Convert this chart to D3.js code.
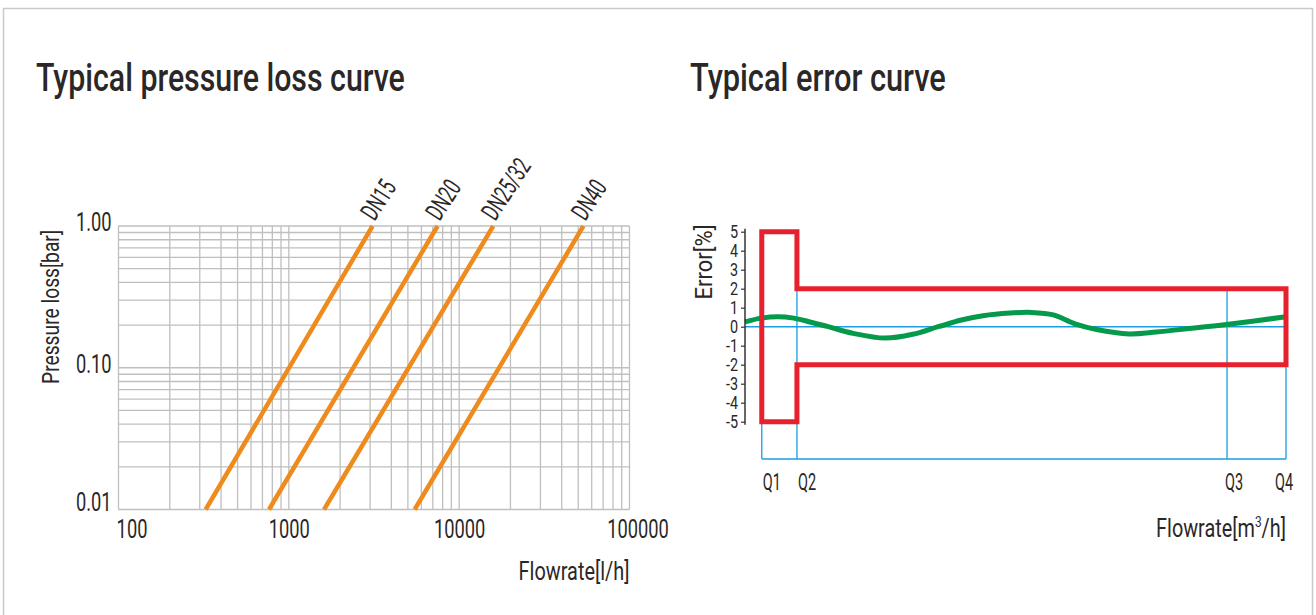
<!DOCTYPE html>
<html><head><meta charset="utf-8">
<script src="https://cdn.jsdelivr.net/npm/d3@7"></script>
<style>
html,body{margin:0;padding:0;background:#fff;}
text{font-family:Roboto,"Liberation Sans Narrow","DejaVu Sans Condensed",sans-serif;fill:#2b2727;}
</style></head><body>
<svg id="c" width="1316" height="615"></svg>
<script>
// ---------- DATA ----------
// Left chart: pressure loss curves (log-log straight lines)
const sizes = ["DN15", "DN20", "DN25/32", "DN40"];
const flowAtLowP = [325, 765, 1610, 5480];     // l/h at 0.01 bar
const flowAtHighP = [3100, 7470, 15850, 53600]; // l/h at 1.00 bar
const lowP = 0.01, highP = 1.0;
const pressureTicks = [1, 0.1, 0.01];
const pressureTickLabels = ["1.00", "0.10", "0.01"];
const flowTicks = [100, 1000, 10000, 100000];
const flowTickLabels = ["100", "1000", "10000", "100000"];

// Right chart: error curve
const errorTicks = [5, 4, 3, 2, 1, 0, -1, -2, -3, -4, -5];
const qNames = ["Q1", "Q2", "Q3", "Q4"];
const qFlow = [3.1, 9.6, 89.1, 100];            // relative flow position
const mpeLowZone = 5;                            // % between Q1 and Q2
const mpeHighZone = 2;                           // % between Q2 and Q4
const errFlow = [0, 3, 6, 9, 12, 15.4, 20, 25.9, 31, 35.7, 40, 44, 49, 53, 57, 61, 65, 71, 76, 82, 89, 100];
const errValue = [0.25, 0.45, 0.52, 0.45, 0.25, 0, -0.35, -0.6, -0.4, 0, 0.35, 0.58, 0.72, 0.75, 0.62, 0.15, -0.15, -0.38, -0.28, -0.1, 0.12, 0.52];

// ---------- HELPERS ----------
const svg = d3.select("#c");
function squeeze(sel, f) {
  sel.each(function () {
    const L = this.getComputedTextLength();
    d3.select(this).attr("textLength", L * f).attr("lengthAdjust", "spacingAndGlyphs");
  });
}
// horizontally condensed label via transform (keeps bbox honest)
function label(parent, o) {
  const t = parent.append("text").attr("font-size", o.size)
    .attr("text-anchor", o.anchor || "start");
  if (o.weight) t.attr("font-weight", o.weight);
  if (o.build) o.build(t); else t.text(o.text);
  const L = t.node().getComputedTextLength();
  const sx = o.width ? o.width / L : (o.factor || 1);
  t.attr("transform", `translate(${o.x},${o.y})` + (o.rotate ? ` rotate(${o.rotate})` : "") + ` scale(${sx},1)`);
  return t;
}

// outer frame
svg.append("rect").attr("x", 3.5).attr("y", 8.5).attr("width", 1309).attr("height", 640)
  .attr("fill", "none").attr("stroke", "#c9c9c9").attr("stroke-width", 1.5);

// titles
label(svg, { text: "Typical pressure loss curve", x: 36, y: 91, size: 39, weight: 500, width: 369 });
label(svg, { text: "Typical error curve", x: 690, y: 91, size: 39, weight: 500, width: 256 });

// ---------- LEFT CHART ----------
const x = d3.scaleLog().domain([100, 100000]).range([118.5, 629.5]);
const y = d3.scaleLog().domain([0.01, 1]).range([509.5, 226]);
const L = svg.append("g");

// grid
const xGrid = [], yGrid = [];
for (let d = 100; d < 100000; d *= 10) for (let m = 1; m < 10; m++) xGrid.push(d * m);
xGrid.push(100000);
for (let d = 0.01; d < 0.99; d *= 10) for (let m = 1; m < 10; m++) yGrid.push(+(d * m).toPrecision(3));
yGrid.push(1);
L.append("g").selectAll("line").data(xGrid).join("line")
  .attr("x1", d => x(d)).attr("x2", d => x(d)).attr("y1", y(1)).attr("y2", y(0.01))
  .attr("stroke", "#bfbfbf").attr("stroke-width", 1.3);
L.append("g").selectAll("line").data(yGrid).join("line")
  .attr("y1", d => y(d)).attr("y2", d => y(d)).attr("x1", x(100)).attr("x2", x(100000))
  .attr("stroke", "#bfbfbf").attr("stroke-width", 1.3);

// curves
const lines = sizes.map((s, i) => ({ name: s, p: [[flowAtLowP[i], lowP], [flowAtHighP[i], highP]] }));
L.append("g").selectAll("path").data(lines).join("path")
  .attr("d", d => d3.line().x(p => x(p[0])).y(p => y(p[1]))(d.p))
  .attr("fill", "none").attr("stroke", "#ef8a1d").attr("stroke-width", 4.5);
const dnG = L.append("g");
lines.forEach(d => label(dnG, { text: d.name, x: x(d.p[1][0]) + 2, y: y(highP) - 4, size: 26, rotate: -57, factor: 0.64 }));

// axes labels
const yAx = L.append("g").attr("transform", `translate(${x(100)},0)`)
  .call(d3.axisLeft(y).tickValues(pressureTicks).tickFormat((d, i) => pressureTickLabels[i]).tickSize(0).tickPadding(7));
yAx.select(".domain").remove();
yAx.selectAll("text").attr("font-size", 25).attr("font-family", null).attr("fill", "#2b2727")
  .attr("dy", (d, i) => i === 2 ? "0.05em" : "0.18em").call(squeeze, 0.73);

const xAx = L.append("g").attr("transform", `translate(0,${y(0.01)})`)
  .call(d3.axisBottom(x).tickValues(flowTicks).tickFormat((d, i) => flowTickLabels[i]).tickSize(0));
xAx.select(".domain").remove();
xAx.selectAll("text").attr("font-size", 25).attr("font-family", null).attr("fill", "#2b2727")
  .attr("y", 28).attr("dy", 0)
  .attr("dx", (d, i) => i === 0 ? 13 : (i === 3 ? 8 : 0)).call(squeeze, 0.73);

label(L, { text: "Flowrate[l/h]", x: 629.5, y: 580, size: 25, anchor: "end", width: 111 });
label(L, { text: "Pressure loss[bar]", x: 59, y: 307, size: 24, anchor: "middle", rotate: -90, width: 154 });

// ---------- RIGHT CHART ----------
const ex = d3.scaleLinear().domain([0, 100]).range([745, 1286]);
const ey = d3.scaleLinear().domain([-5, 5]).range([421.7, 231.7]);
const R = svg.append("g");
const blue = "#1b9ce3";

// blue reference lines
R.append("line").attr("x1", ex(0)).attr("x2", ex(100)).attr("y1", ey(0)).attr("y2", ey(0))
  .attr("stroke", blue).attr("stroke-width", 1.5);
const baseY = 459;
R.append("line").attr("x1", ex(qFlow[0])).attr("x2", ex(qFlow[3])).attr("y1", baseY).attr("y2", baseY)
  .attr("stroke", blue).attr("stroke-width", 1.5);
R.append("g").selectAll("line").data(qFlow).join("line")
  .attr("x1", d => ex(d)).attr("x2", d => ex(d)).attr("y1", ey(mpeHighZone)).attr("y2", baseY)
  .attr("stroke", blue).attr("stroke-width", 1.3);

// green error curve
R.append("path")
  .attr("d", d3.line().curve(d3.curveCatmullRom.alpha(0.5)).x(d => ex(d[0])).y(d => ey(d[1]))(errFlow.map((f, i) => [f, errValue[i]])))
  .attr("fill", "none").attr("stroke", "#05994b").attr("stroke-width", 5);

// red MPE envelope
const [q1, q2, , q4] = qFlow;
const env = [[q1, mpeLowZone], [q2, mpeLowZone], [q2, mpeHighZone], [q4, mpeHighZone],
             [q4, -mpeHighZone], [q2, -mpeHighZone], [q2, -mpeLowZone], [q1, -mpeLowZone]];
R.append("path").attr("d", d3.line().x(d => ex(d[0])).y(d => ey(d[1]))(env) + "Z")
  .attr("fill", "none").attr("stroke", "#e6202d").attr("stroke-width", 5).attr("stroke-linejoin", "miter");

// y axis
const eyAx = R.append("g").attr("transform", `translate(${ex(0)},0)`)
  .call(d3.axisLeft(ey).tickValues(errorTicks).tickFormat(d => String(d)).tickSize(4).tickSizeOuter(0).tickPadding(3));
eyAx.select(".domain").attr("stroke", "#333").attr("stroke-width", 1.5)
  .attr("d", `M0,${ey(5) - 3}V${ey(-5) + 3}`);
eyAx.selectAll(".tick line").attr("stroke", "#333").attr("stroke-width", 1.2);
eyAx.selectAll("text").attr("font-size", 18).attr("font-family", null).attr("fill", "#2b2727").call(squeeze, 0.8);

label(R, { text: "Error[%]", x: 712, y: 262, size: 24, anchor: "middle", rotate: -90, width: 75 });

// Q labels
const qG = R.append("g");
qNames.forEach((q, i) => label(qG, {
  text: q, x: ex(qFlow[i]) + (i === 2 ? -2 : (i === 3 ? -11 : 1)), y: 490, size: 23, factor: 0.63
}));

label(R, {
  x: ex(100), y: 537, size: 25, anchor: "end", width: 130,
  build: t => {
    t.append("tspan").text("Flowrate[m");
    t.append("tspan").attr("font-size", 15).attr("dy", -10).text("3");
    t.append("tspan").attr("dy", 10).text("/h]");
  }
});
</script>
</body></html>
